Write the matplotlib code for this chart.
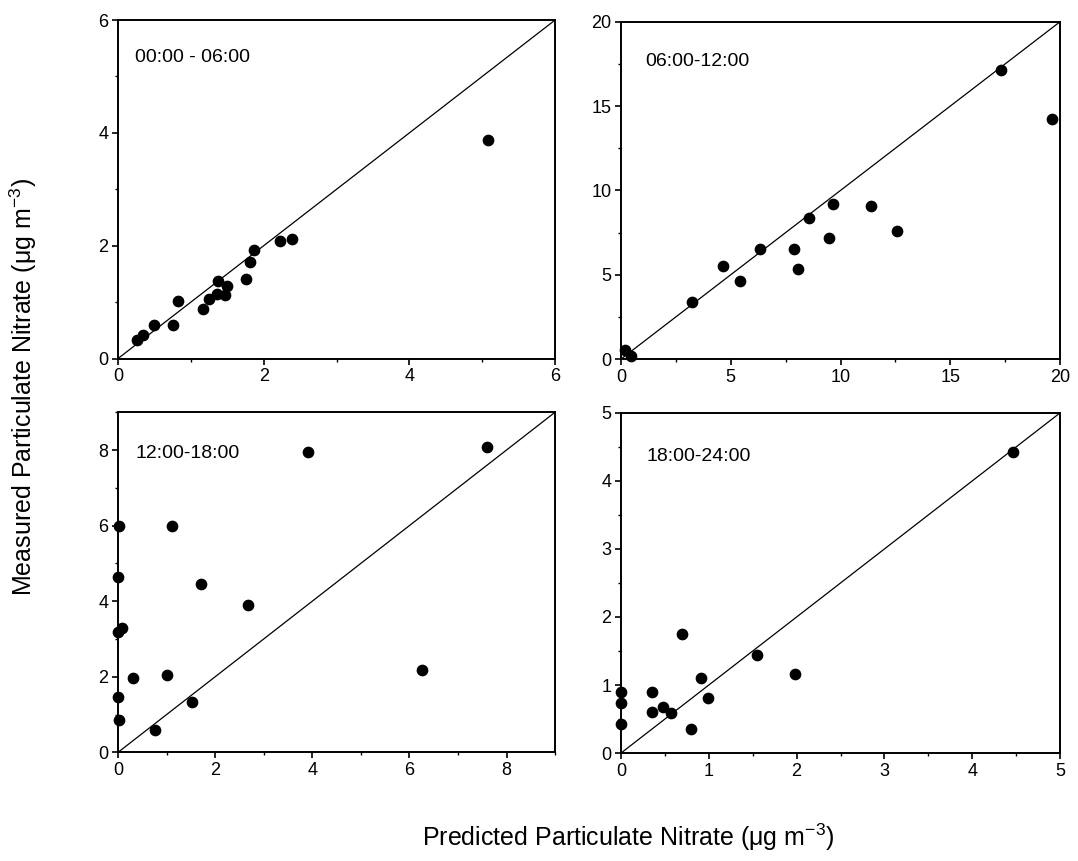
import numpy as np
import matplotlib
matplotlib.use("Agg")
import matplotlib.pyplot as plt
from matplotlib.ticker import MultipleLocator

plt.rcParams['font.family'] = ['Liberation Sans', 'DejaVu Sans']
plt.rcParams['mathtext.fontset'] = 'custom'
plt.rcParams['mathtext.rm'] = 'Liberation Sans'

# 00:00 - 06:00
pred_1 = [0.26, 0.34, 0.49, 0.76, 0.82, 1.17, 1.25, 1.37, 1.36, 1.47, 1.49, 1.75, 1.81, 1.86, 2.23, 2.39, 5.08]
meas_1 = [0.33, 0.41, 0.59, 0.59, 1.02, 0.87, 1.05, 1.37, 1.15, 1.12, 1.29, 1.41, 1.71, 1.93, 2.09, 2.12, 3.87]

# 06:00-12:00
pred_2 = [0.18, 0.46, 3.22, 4.66, 5.44, 6.35, 7.88, 8.05, 8.56, 9.46, 9.67, 11.40, 12.57, 17.30, 19.65]
meas_2 = [0.55, 0.16, 3.38, 5.53, 4.60, 6.55, 6.55, 5.33, 8.39, 7.15, 9.22, 9.08, 7.60, 17.12, 14.22]

# 12:00-18:00
pred_3 = [3.92, 7.60, 0.01, 1.12, 0.0, 1.71, 2.67, 0.0, 0.08, 0.30, 1.01, 6.26, 0.0, 1.52, 0.03, 0.77]
meas_3 = [7.96, 8.08, 6.00, 5.99, 4.63, 4.46, 3.89, 3.19, 3.28, 1.96, 2.04, 2.19, 1.47, 1.32, 0.85, 0.59]

# 18:00-24:00
pred_4 = [0.0, 0.0, 0.0, 0.35, 0.35, 0.48, 0.57, 0.70, 0.80, 0.91, 0.99, 1.55, 1.98, 4.46]
meas_4 = [0.89, 0.73, 0.43, 0.89, 0.61, 0.68, 0.59, 1.75, 0.36, 1.10, 0.81, 1.44, 1.16, 4.42]

labels = ["00:00 - 06:00", "06:00-12:00", "12:00-18:00", "18:00-24:00"]
limits = [6, 20, 9, 5]
major = [2, 5, 2, 1]

panels = [
    (pred_1, meas_1, [0.1095, 0.5836, 0.4054, 0.3931], (0.039, 0.888)),
    (pred_2, meas_2, [0.5761, 0.5830, 0.4072, 0.3917], (0.055, 0.883)),
    (pred_3, meas_3, [0.1095, 0.1262, 0.4054, 0.3950], (0.041, 0.880)),
    (pred_4, meas_4, [0.5761, 0.1254, 0.4072, 0.3950], (0.057, 0.871)),
]

fig = plt.figure(figsize=(10.78, 8.61), dpi=100)

for i, (xs, ys, rect, txt) in enumerate(panels):
    ax = fig.add_axes(rect)
    lim = limits[i]
    ax.plot([0, lim], [0, lim], color='black', linewidth=0.9)
    ax.scatter(xs, ys, s=55, color='black', zorder=3, clip_on=False)
    ax.set_xlim(0, lim)
    ax.set_ylim(0, lim)
    ax.xaxis.set_major_locator(MultipleLocator(major[i]))
    ax.yaxis.set_major_locator(MultipleLocator(major[i]))
    ax.xaxis.set_minor_locator(MultipleLocator(major[i] / 2))
    ax.yaxis.set_minor_locator(MultipleLocator(major[i] / 2))
    if i == 2:
        ax.set_yticks([0, 2, 4, 6, 8])
        ax.set_xticks([0, 2, 4, 6, 8])
    ax.tick_params(which='major', direction='out', length=4, width=1.2, labelsize=13, pad=3)
    ax.tick_params(which='minor', direction='out', length=2.5, width=1)
    for sp in ax.spines.values():
        sp.set_linewidth(1.4)
    ax.text(txt[0], txt[1], labels[i], transform=ax.transAxes, fontsize=14,
            ha='left', va='center')

fig.text(0.022, 0.55, "Measured Particulate Nitrate (\u03bcg m$^{-3}$)", rotation=90,
         ha='center', va='center', fontsize=18)
fig.text(0.583, 0.027, "Predicted Particulate Nitrate (\u03bcg m$^{-3}$)",
         ha='center', va='center', fontsize=18)

fig.savefig("out.png", dpi=100)
